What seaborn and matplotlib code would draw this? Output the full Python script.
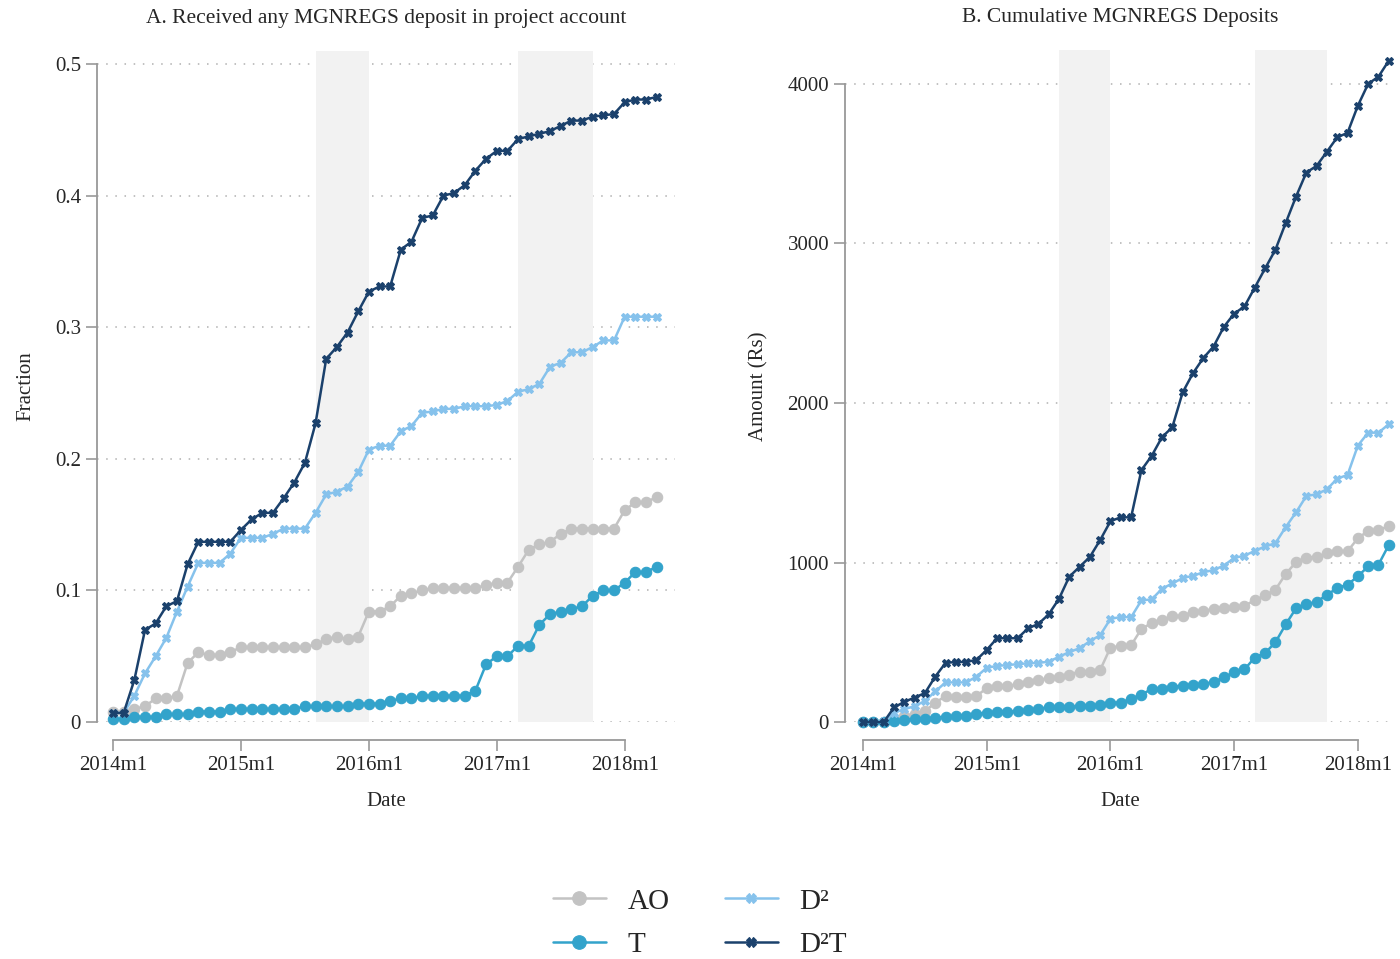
import numpy as np
import pandas as pd
import matplotlib
matplotlib.use("Agg")
import matplotlib.pyplot as plt
import seaborn as sns

# Months since 2014m1 (2014m1 .. 2018m4)
meses = list(range(52))
tick_pos = [0, 12, 24, 36, 48]
tick_lab = ["2014m1", "2015m1", "2016m1", "2017m1", "2018m1"]
grupos = ["AO", "T", "D²", "D²T"]

# Panel A: fraction with any deposit
ao_a = [0.008, 0.008, 0.010, 0.012, 0.018, 0.018, 0.020, 0.045, 0.053, 0.051,
        0.051, 0.053, 0.057, 0.057, 0.057, 0.057, 0.057, 0.057, 0.057, 0.059,
        0.063, 0.065, 0.063, 0.065, 0.084, 0.084, 0.088, 0.096, 0.098, 0.100,
        0.102, 0.102, 0.102, 0.102, 0.102, 0.104, 0.106, 0.106, 0.118, 0.131,
        0.135, 0.137, 0.143, 0.147, 0.147, 0.147, 0.147, 0.147, 0.161, 0.167,
        0.167, 0.171]
t_a = [0.002, 0.002, 0.004, 0.004, 0.004, 0.006, 0.006, 0.006, 0.008, 0.008,
       0.008, 0.010, 0.010, 0.010, 0.010, 0.010, 0.010, 0.010, 0.012, 0.012,
       0.012, 0.012, 0.012, 0.014, 0.014, 0.014, 0.016, 0.018, 0.018, 0.020,
       0.020, 0.020, 0.020, 0.020, 0.024, 0.044, 0.050, 0.050, 0.058, 0.058,
       0.074, 0.082, 0.084, 0.086, 0.088, 0.096, 0.100, 0.100, 0.106, 0.114,
       0.114, 0.118]
d2_a = [0.007, 0.007, 0.020, 0.037, 0.050, 0.064, 0.084, 0.103, 0.121, 0.121,
        0.121, 0.128, 0.140, 0.140, 0.140, 0.143, 0.147, 0.147, 0.147, 0.159,
        0.173, 0.175, 0.179, 0.190, 0.207, 0.210, 0.210, 0.221, 0.225, 0.235,
        0.236, 0.238, 0.238, 0.240, 0.240, 0.240, 0.241, 0.244, 0.251, 0.253,
        0.257, 0.270, 0.273, 0.281, 0.281, 0.285, 0.290, 0.290, 0.308, 0.308,
        0.308, 0.308]
d2t_a = [0.007, 0.007, 0.032, 0.070, 0.075, 0.088, 0.092, 0.120, 0.137, 0.137,
         0.137, 0.137, 0.146, 0.154, 0.159, 0.159, 0.170, 0.182, 0.197, 0.227,
         0.276, 0.285, 0.296, 0.312, 0.327, 0.331, 0.331, 0.359, 0.365, 0.383,
         0.385, 0.400, 0.402, 0.408, 0.419, 0.428, 0.434, 0.434, 0.443, 0.445,
         0.447, 0.449, 0.453, 0.457, 0.457, 0.460, 0.461, 0.462, 0.471, 0.473,
         0.473, 0.475]

# Panel B: cumulative deposits (Rs)
ao_b = [0, 0, 0, 20, 41, 51, 68, 122, 163, 160, 160, 163, 214, 228, 228, 236,
        249, 263, 276, 282, 298, 317, 312, 327, 467, 477, 481, 584, 621, 643,
        662, 668, 690, 696, 710, 716, 721, 730, 763, 794, 830, 928, 1003, 1031,
        1034, 1057, 1071, 1071, 1152, 1199, 1205, 1227]
t_b = [0, 0, 0, 5, 14, 19, 22, 27, 33, 38, 41, 51, 60, 65, 65, 68, 73, 84, 92,
       92, 95, 100, 103, 110, 121, 123, 145, 173, 207, 207, 221, 229, 235, 238,
       252, 280, 313, 330, 405, 433, 500, 612, 713, 738, 755, 797, 841, 861,
       914, 976, 987, 1110]
d2_b = [0, 0, 5, 60, 81, 100, 133, 192, 249, 249, 249, 285, 341, 352, 358, 363,
        369, 371, 379, 409, 439, 463, 507, 545, 647, 659, 657, 763, 769, 836,
        869, 903, 917, 939, 953, 981, 1029, 1043, 1073, 1101, 1121, 1222, 1314,
        1417, 1428, 1459, 1526, 1549, 1733, 1814, 1814, 1867]
d2t_b = [0, 0, 0, 92, 127, 154, 182, 285, 371, 377, 377, 390, 453, 526, 526,
         526, 588, 615, 675, 772, 911, 973, 1035, 1141, 1259, 1284, 1283, 1579,
         1669, 1786, 1848, 2066, 2186, 2281, 2354, 2477, 2560, 2605, 2723, 2843,
         2960, 3128, 3293, 3444, 3486, 3575, 3665, 3693, 3863, 4000, 4045, 4145]

# shaded periods (month index)
periodos = [(19, 24), (38, 45)]

cores = {"AO": "#c3c3c3", "T": "#33a3cb", "D²": "#86c2ec", "D²T": "#1b416c"}
marcadores = {"AO": "o", "T": "o", "D²": "X", "D²T": "X"}
tamanhos = {"AO": 7.5, "T": 7.5, "D²": 5.5, "D²T": 5.5}


def montar(series):
    linhas = []
    for g, vals in zip(grupos, series):
        for m, v in zip(meses, vals):
            linhas.append({"mes": m, "valor": v, "grupo": g})
    return pd.DataFrame(linhas)


df_a = montar([ao_a, t_a, d2_a, d2t_a])
df_b = montar([ao_b, t_b, d2_b, d2t_b])

sns.set_theme(style="white")
plt.rcParams["font.family"] = ["Liberation Serif", "DejaVu Serif"]

fig = plt.figure(figsize=(14, 9.59), dpi=100)
ax_a = fig.add_axes([0.0693, 0.247, 0.4127, 0.700])
ax_b = fig.add_axes([0.6036, 0.247, 0.3928, 0.701])

configs = [
    (ax_a, df_a, "A. Received any MGNREGS deposit in project account", "Fraction",
     [0, 0.1, 0.2, 0.3, 0.4, 0.5], ["0", "0.1", "0.2", "0.3", "0.4", "0.5"],
     (0, 0.51), (-1.5, 52.7)),
    (ax_b, df_b, "B. Cumulative MGNREGS Deposits", "Amount (Rs)",
     [0, 1000, 2000, 3000, 4000], ["0", "1000", "2000", "3000", "4000"],
     (0, 4213), (-1.75, 51.6)),
]

for ax, df, titulo, ylab, yt, ytl, ylim, xlim in configs:
    ax.yaxis.grid(True, linestyle=(0, (1, 5)), color="#b0b0b0", linewidth=1.1, zorder=0)
    ax.set_axisbelow(True)
    for ini, fim in periodos:
        ax.axvspan(ini, fim, color="#f2f2f2", zorder=1, lw=0)
    for g in grupos:
        sub = df[df["grupo"] == g]
        sns.lineplot(data=sub, x="mes", y="valor", ax=ax, color=cores[g],
                     marker=marcadores[g], markersize=tamanhos[g],
                     markeredgecolor=cores[g], markeredgewidth=0.8,
                     linewidth=1.8, label=g, clip_on=False, zorder=3)
    ax.set_xlim(*xlim)
    ax.set_ylim(*ylim)
    ax.set_xticks(tick_pos)
    ax.set_xticklabels(tick_lab)
    ax.set_yticks(yt)
    ax.set_yticklabels(ytl)
    ax.set_title(titulo, fontsize=15.5, pad=20)
    ax.set_xlabel("Date", fontsize=15, labelpad=12)
    ax.set_ylabel(ylab, fontsize=15, labelpad=14)
    ax.tick_params(axis="both", labelsize=15, length=8, width=1.2,
                   color="#999999", direction="out", left=True, bottom=True)
    ax.get_legend().remove()
    for s in ["top", "right"]:
        ax.spines[s].set_visible(False)
    ax.spines["left"].set_color("#999999")
    ax.spines["bottom"].set_color("#999999")
    ax.spines["left"].set_linewidth(1.3)
    ax.spines["bottom"].set_linewidth(1.3)
    ax.spines["bottom"].set_position(("outward", 13))
    ax.spines["bottom"].set_bounds(0, 48)
    ax.spines["left"].set_bounds(yt[0], yt[-1])

handles, labels = ax_a.get_legend_handles_labels()
fig.legend(handles, labels, loc="center", bbox_to_anchor=(0.5, 1 - 923 / 959),
           ncol=2, frameon=False, fontsize=21, handlelength=1.8,
           columnspacing=1.9, handletextpad=0.75, labelspacing=0.57,
           markerscale=1.3)

plt.savefig("out.png", dpi=100)
